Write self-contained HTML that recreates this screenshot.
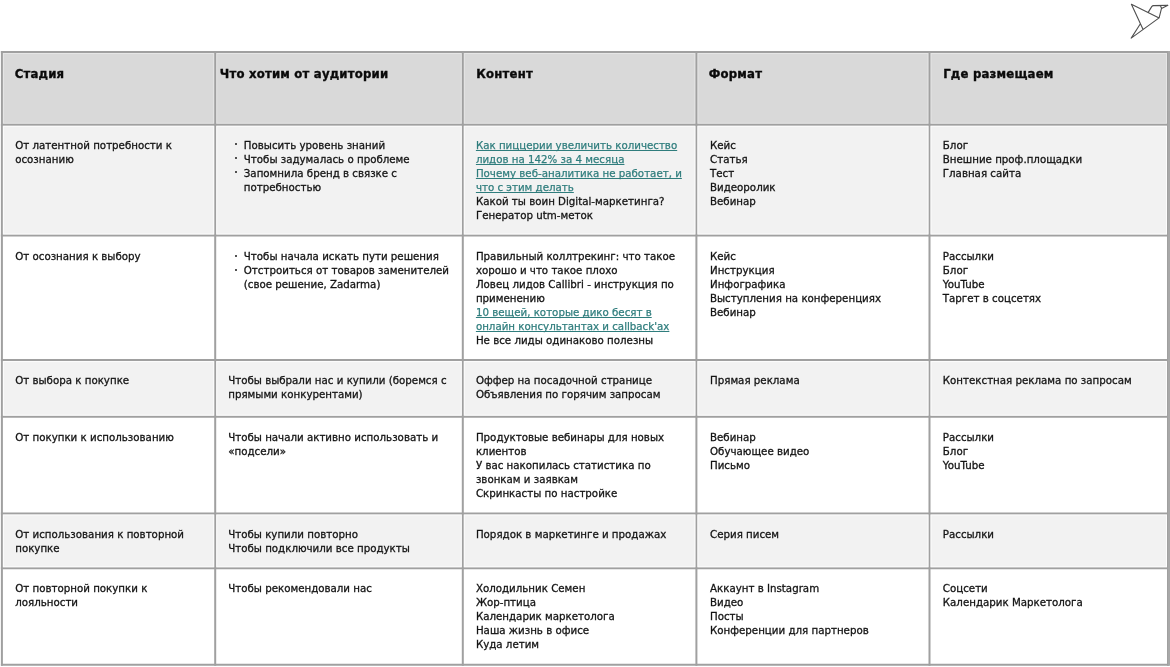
<!DOCTYPE html><html><head><meta charset="utf-8"><style>
html,body{margin:0;padding:0;background:#fff;}
#w{position:relative;width:1170px;height:667px;overflow:hidden;background:#fff;font-family:"DejaVu Sans","Liberation Sans",sans-serif;color:#141414;}
.bg,.l,.t{position:absolute;}
#tx{position:absolute;left:0;top:0;width:1170px;height:667px;will-change:transform;}
.t{font-size:10.25px;line-height:14px;white-space:nowrap;-webkit-text-stroke:0.3px #141414;}
.t a{-webkit-text-stroke:0.25px #2f7d7d;}
.h{position:absolute;font-family:"DejaVu Sans Condensed","DejaVu Sans",sans-serif;font-size:13px;font-weight:bold;line-height:16px;letter-spacing:0.2px;-webkit-text-stroke:0.35px #0a0a0a;white-space:nowrap;color:#0a0a0a;}
.t a{color:#2f7d7d;text-decoration:underline;text-decoration-thickness:1px;text-underline-offset:0.5px;text-decoration-skip-ink:none;}
.l{background:#a0a0a0;}
.b{position:absolute;width:2.5px;height:2.5px;background:#1a1a1a;border-radius:50%;}
</style></head><body><div id="w">
<div class="bg" style="left:1.90px;top:52.00px;width:1166.10px;height:72.80px;background:#d9d9d9"></div>
<div class="bg" style="left:1.90px;top:124.80px;width:1166.10px;height:110.70px;background:#f2f2f2"></div>
<div class="bg" style="left:1.90px;top:235.50px;width:1166.10px;height:124.60px;background:#fff"></div>
<div class="bg" style="left:1.90px;top:360.10px;width:1166.10px;height:56.60px;background:#f2f2f2"></div>
<div class="bg" style="left:1.90px;top:416.70px;width:1166.10px;height:96.80px;background:#fff"></div>
<div class="bg" style="left:1.90px;top:513.50px;width:1166.10px;height:54.80px;background:#f2f2f2"></div>
<div class="bg" style="left:1.90px;top:568.30px;width:1166.10px;height:96.50px;background:#fff"></div>
<svg style="position:absolute;left:0;top:0" width="1170" height="667" viewBox="0 0 1170 667" fill="none" stroke="#a0a0a0" stroke-width="2"><line x1="0.8999999999999999" y1="52" x2="1169" y2="52"/><line x1="0.8999999999999999" y1="124.8" x2="1169" y2="124.8"/><line x1="0.8999999999999999" y1="235.5" x2="1169" y2="235.5"/><line x1="0.8999999999999999" y1="360.1" x2="1169" y2="360.1"/><line x1="0.8999999999999999" y1="416.7" x2="1169" y2="416.7"/><line x1="0.8999999999999999" y1="513.5" x2="1169" y2="513.5"/><line x1="0.8999999999999999" y1="568.3" x2="1169" y2="568.3"/><line x1="0.8999999999999999" y1="664.8" x2="1169" y2="664.8"/><line x1="1.9" y1="51" x2="1.9" y2="665.8"/><line x1="215.2" y1="51" x2="215.2" y2="665.8"/><line x1="462.8" y1="51" x2="462.8" y2="665.8"/><line x1="696.4" y1="51" x2="696.4" y2="665.8"/><line x1="929.5" y1="51" x2="929.5" y2="665.8"/><line x1="1168" y1="51" x2="1168" y2="665.8"/><rect x="3.40" y="53.50" width="210.30" height="69.80" stroke="#fff" stroke-opacity="0.35" stroke-width="1"/><rect x="216.70" y="53.50" width="244.60" height="69.80" stroke="#fff" stroke-opacity="0.35" stroke-width="1"/><rect x="464.30" y="53.50" width="230.60" height="69.80" stroke="#fff" stroke-opacity="0.35" stroke-width="1"/><rect x="697.90" y="53.50" width="230.10" height="69.80" stroke="#fff" stroke-opacity="0.35" stroke-width="1"/><rect x="931.00" y="53.50" width="235.50" height="69.80" stroke="#fff" stroke-opacity="0.35" stroke-width="1"/><rect x="3.40" y="126.30" width="210.30" height="107.70" stroke="#fff" stroke-opacity="0.8" stroke-width="1"/><rect x="216.70" y="126.30" width="244.60" height="107.70" stroke="#fff" stroke-opacity="0.8" stroke-width="1"/><rect x="464.30" y="126.30" width="230.60" height="107.70" stroke="#fff" stroke-opacity="0.8" stroke-width="1"/><rect x="697.90" y="126.30" width="230.10" height="107.70" stroke="#fff" stroke-opacity="0.8" stroke-width="1"/><rect x="931.00" y="126.30" width="235.50" height="107.70" stroke="#fff" stroke-opacity="0.8" stroke-width="1"/><rect x="3.40" y="361.60" width="210.30" height="53.60" stroke="#fff" stroke-opacity="0.8" stroke-width="1"/><rect x="216.70" y="361.60" width="244.60" height="53.60" stroke="#fff" stroke-opacity="0.8" stroke-width="1"/><rect x="464.30" y="361.60" width="230.60" height="53.60" stroke="#fff" stroke-opacity="0.8" stroke-width="1"/><rect x="697.90" y="361.60" width="230.10" height="53.60" stroke="#fff" stroke-opacity="0.8" stroke-width="1"/><rect x="931.00" y="361.60" width="235.50" height="53.60" stroke="#fff" stroke-opacity="0.8" stroke-width="1"/><rect x="3.40" y="515.00" width="210.30" height="51.80" stroke="#fff" stroke-opacity="0.8" stroke-width="1"/><rect x="216.70" y="515.00" width="244.60" height="51.80" stroke="#fff" stroke-opacity="0.8" stroke-width="1"/><rect x="464.30" y="515.00" width="230.60" height="51.80" stroke="#fff" stroke-opacity="0.8" stroke-width="1"/><rect x="697.90" y="515.00" width="230.10" height="51.80" stroke="#fff" stroke-opacity="0.8" stroke-width="1"/><rect x="931.00" y="515.00" width="235.50" height="51.80" stroke="#fff" stroke-opacity="0.8" stroke-width="1"/><rect x="1168" y="51" width="2" height="614.8" fill="#a8a8a8" stroke="none"/></svg>
<div id="tx">
<div class="h" style="left:14.70px;top:65.70px">Стадия</div>
<div class="h" style="left:219.80px;top:65.70px">Что хотим от аудитории</div>
<div class="h" style="left:476.30px;top:65.70px">Контент</div>
<div class="h" style="left:708.70px;top:65.70px">Формат</div>
<div class="h" style="left:943.20px;top:65.70px">Где размещаем</div>
<div class="t" style="left:15.20px;top:137.77px">От латентной потребности к<br>осознанию</div>
<div class="b" style="left:234.90px;top:142.80px"></div>
<div class="t" style="left:243.80px;top:137.77px">Повысить уровень знаний</div>
<div class="b" style="left:234.90px;top:156.80px"></div>
<div class="t" style="left:243.80px;top:151.77px">Чтобы задумалась о проблеме</div>
<div class="b" style="left:234.90px;top:170.80px"></div>
<div class="t" style="left:243.80px;top:165.77px">Запомнила бренд в связке с<br>потребностью</div>
<div class="t" style="left:475.90px;top:137.77px"><a>Как пиццерии увеличить количество</a><br><a>лидов на 142% за 4 месяца</a><br><a>Почему веб-аналитика не работает, и</a><br><a>что с этим делать</a><br>Какой ты воин Digital-маркетинга?<br>Генератор utm-меток</div>
<div class="t" style="left:710.00px;top:137.77px">Кейс<br>Статья<br>Тест<br>Видеоролик<br>Вебинар</div>
<div class="t" style="left:942.80px;top:137.77px">Блог<br>Внешние проф.площадки<br>Главная сайта</div>
<div class="t" style="left:15.20px;top:249.47px">От осознания к выбору</div>
<div class="b" style="left:234.90px;top:254.50px"></div>
<div class="t" style="left:243.80px;top:249.47px">Чтобы начала искать пути решения</div>
<div class="b" style="left:234.90px;top:268.50px"></div>
<div class="t" style="left:243.80px;top:263.47px">Отстроиться от товаров заменителей<br>(свое решение, Zadarma)</div>
<div class="t" style="left:475.90px;top:249.47px">Правильный коллтрекинг: что такое<br>хорошо и что такое плохо<br>Ловец лидов Callibri - инструкция по<br>применению<br><a>10 вещей, которые дико бесят в</a><br><a>онлайн консультантах и callback'ах</a><br>Не все лиды одинаково полезны</div>
<div class="t" style="left:710.00px;top:249.47px">Кейс<br>Инструкция<br>Инфографика<br>Выступления на конференциях<br>Вебинар</div>
<div class="t" style="left:942.80px;top:249.47px">Рассылки<br>Блог<br>YouTube<br>Таргет в соцсетях</div>
<div class="t" style="left:15.20px;top:373.30px">От выбора к покупке</div>
<div class="t" style="left:228.20px;top:373.30px">Чтобы выбрали нас и купили (боремся с<br>прямыми конкурентами)</div>
<div class="t" style="left:475.90px;top:373.30px">Оффер на посадочной странице<br>Объявления по горячим запросам</div>
<div class="t" style="left:710.00px;top:373.30px">Прямая реклама</div>
<div class="t" style="left:942.80px;top:373.30px">Контекстная реклама по запросам</div>
<div class="t" style="left:15.20px;top:429.67px">От покупки к использованию</div>
<div class="t" style="left:228.20px;top:429.67px">Чтобы начали активно использовать и<br>«подсели»</div>
<div class="t" style="left:475.90px;top:429.67px">Продуктовые вебинары для новых<br>клиентов<br>У вас накопилась статистика по<br>звонкам и заявкам<br>Скринкасты по настройке</div>
<div class="t" style="left:710.00px;top:429.67px">Вебинар<br>Обучающее видео<br>Письмо</div>
<div class="t" style="left:942.80px;top:429.67px">Рассылки<br>Блог<br>YouTube</div>
<div class="t" style="left:15.20px;top:526.60px">От использования к повторной<br>покупке</div>
<div class="t" style="left:228.20px;top:526.60px">Чтобы купили повторно<br>Чтобы подключили все продукты</div>
<div class="t" style="left:475.90px;top:526.60px">Порядок в маркетинге и продажах</div>
<div class="t" style="left:710.00px;top:526.60px">Серия писем</div>
<div class="t" style="left:942.80px;top:526.60px">Рассылки</div>
<div class="t" style="left:15.20px;top:581.27px">От повторной покупки к<br>лояльности</div>
<div class="t" style="left:228.20px;top:581.27px">Чтобы рекомендовали нас</div>
<div class="t" style="left:475.90px;top:581.27px">Холодильник Семен<br>Жор-птица<br>Календарик маркетолога<br>Наша жизнь в офисе<br>Куда летим</div>
<div class="t" style="left:710.00px;top:581.27px">Аккаунт в Instagram<br>Видео<br>Посты<br>Конференции для партнеров</div>
<div class="t" style="left:942.80px;top:581.27px">Соцсети<br>Календарик Маркетолога</div>
</div>
<svg style="position:absolute;left:1120px;top:0" width="50" height="45" viewBox="1120 0 50 45" fill="none" stroke="#4f4f4f" stroke-width="1.1" stroke-linejoin="round" stroke-linecap="round">
<path d="M1131.4 4.2 L1159.1 17.9 L1131.2 38.1 L1140.4 23.8 M1131.4 4.2 L1143.1 29.4 M1148.2 12.4 L1151.7 6.6 Q1152.4 5.7 1153.6 5.6 L1167.9 5.3 L1161.5 8.4 L1159.1 17.9 M1160.5 5.8 L1161.5 8.4"/>
</svg>
</div></body></html>
